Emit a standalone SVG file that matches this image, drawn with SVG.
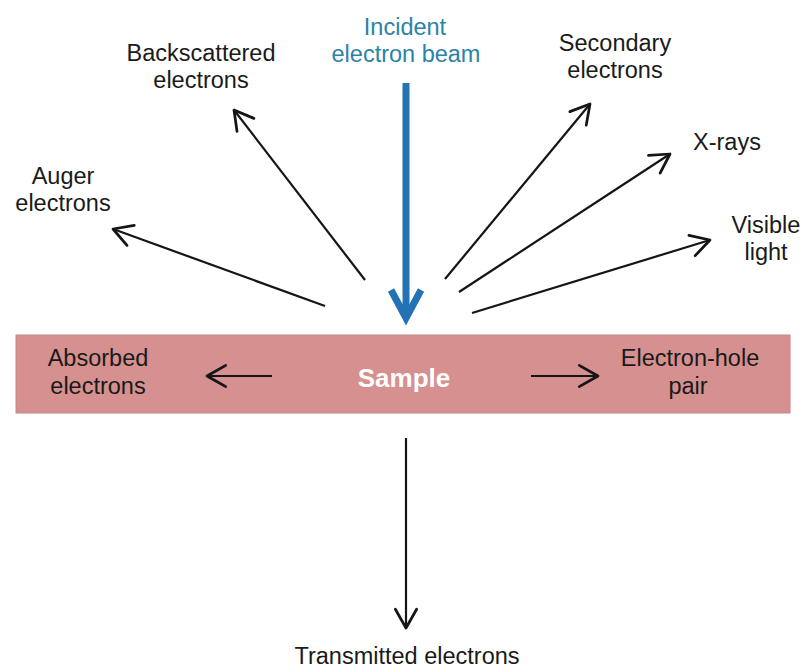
<svg xmlns="http://www.w3.org/2000/svg" width="805" height="672" viewBox="0 0 805 672">
<defs>
<style>
.lbl{font-family:"Liberation Sans",Arial,sans-serif;font-size:23.5px;fill:#1a1a1a;text-anchor:middle}
.inc{fill:#2b82a8}
.smp{font-family:"Liberation Sans",Arial,sans-serif;font-size:26px;font-weight:bold;fill:#ffffff;text-anchor:middle}
.arr{stroke:#151515;stroke-width:2.2;fill:none;marker-end:url(#head)}
</style>
<marker id="head" markerUnits="userSpaceOnUse" markerWidth="30" markerHeight="30" refX="0" refY="0" viewBox="-18 -12 22 24" orient="auto">
<path d="M-15,-8.5 L0,0 L-15,8.5" fill="none" stroke="#151515" stroke-width="2.2" stroke-linejoin="round" stroke-linecap="round"/>
</marker>
</defs>
<rect width="805" height="672" fill="#ffffff"/>
<g id="sample">
<rect x="16" y="335" width="774" height="78" fill="#d5908f" stroke="#c98686" stroke-width="1"/>
<text class="smp" x="404" y="387">Sample</text>
</g>
<g id="incident">
<text class="lbl inc" x="405" y="35">Incident</text>
<text class="lbl inc" x="406" y="62">electron beam</text>
</g>
<g id="backscattered">
<text class="lbl" x="201" y="61">Backscattered</text>
<text class="lbl" x="201" y="88">electrons</text>
</g>
<g id="auger">
<text class="lbl" x="63" y="184">Auger</text>
<text class="lbl" x="63" y="211">electrons</text>
</g>
<g id="secondary">
<text class="lbl" x="615" y="51">Secondary</text>
<text class="lbl" x="615" y="78">electrons</text>
</g>
<g id="xrays">
<text class="lbl" x="727" y="150">X-rays</text>
</g>
<g id="visible">
<text class="lbl" x="766" y="233">Visible</text>
<text class="lbl" x="766" y="260">light</text>
</g>
<g id="absorbed">
<text class="lbl" x="98" y="366">Absorbed</text>
<text class="lbl" x="98" y="394">electrons</text>
</g>
<g id="electronhole">
<text class="lbl" x="690" y="366">Electron-hole</text>
<text class="lbl" x="688" y="394">pair</text>
</g>
<g id="transmitted">
<text class="lbl" x="407" y="664">Transmitted electrons</text>
</g>
<g id="connectors">
<line x1="406" y1="83" x2="406" y2="316" stroke="#2372b5" stroke-width="7"/>
<path d="M391,290 L406,318 L421,290" fill="none" stroke="#2372b5" stroke-width="7" stroke-linejoin="miter"/>
<line class="arr" x1="325" y1="306" x2="113" y2="229"/>
<line class="arr" x1="365" y1="280" x2="234" y2="110"/>
<line class="arr" x1="445" y1="279" x2="590" y2="104"/>
<line class="arr" x1="459" y1="292" x2="670" y2="154"/>
<line class="arr" x1="472" y1="313" x2="710" y2="240"/>
<line class="arr" x1="272" y1="376" x2="207" y2="376"/>
<line class="arr" x1="531" y1="376" x2="598" y2="376"/>
<line class="arr" x1="406" y1="438" x2="406" y2="628"/>
</g>
</svg>
